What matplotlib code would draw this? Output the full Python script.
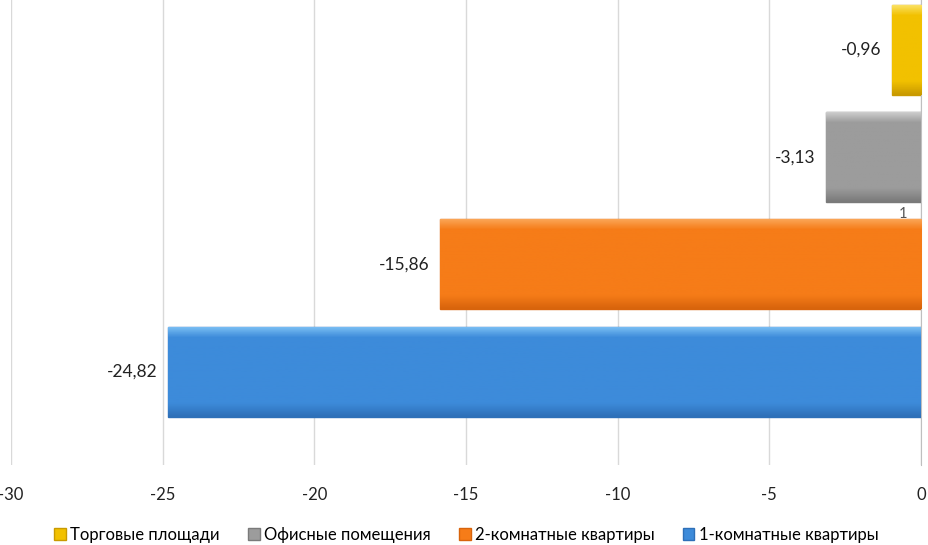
import matplotlib.pyplot as plt
import numpy as np
from matplotlib.patches import Patch
from matplotlib.colors import LinearSegmentedColormap

# chart data
series = ["Торговые площади", "Офисные помещения", "2-комнатные квартиры", "1-комнатные квартиры"]
values = [-0.96, -3.13, -15.86, -24.82]
labels = ["-0,96", "-3,13", "-15,86", "-24,82"]
colors = ["#F2C100", "#9C9C9C", "#F67C18", "#3D8BDA"]
lights = ["#FBE36A", "#D0D0D0", "#FBA85A", "#7CC0F4"]
darks = ["#C99A00", "#7A7A7A", "#D8640C", "#2E70B8"]
xticks = [-30, -25, -20, -15, -10, -5, 0]
category = "1"

plt.rcParams['font.family'] = ['Lato', 'DejaVu Sans']

fig = plt.figure(figsize=(9.29, 5.45), dpi=100)
ax = fig.add_axes([11 / 929, 1 - 465 / 545, 910 / 929, 465 / 545])

pos = list(range(len(values)))
bars = ax.barh(pos, values, height=0.84, color=colors, edgecolor=darks, linewidth=1.0, zorder=3)

# vertical gradient inside each bar (light top, darker bottom)
for bar, lt, c, dk in zip(bars, lights, colors, darks):
    cmap = LinearSegmentedColormap.from_list("g", [(0, lt), (0.12, c), (0.85, c), (1, dk)])
    x0, y0 = bar.get_x(), bar.get_y()
    w, h = bar.get_width(), bar.get_height()
    grad = np.linspace(0, 1, 100).reshape(-1, 1)
    im = ax.imshow(grad, cmap=cmap, aspect='auto', zorder=4,
                   extent=[x0, x0 + w, y0 + h, y0], origin='upper')
    im.set_clip_path(bar)

for p, v, lab in zip(pos, values, labels):
    ax.text(v - 0.35, p, lab, ha='right', va='center', fontsize=12.5, color='#222222')

ax.set_xlim(-30, 0)
ax.set_ylim(3.87, -0.466)
ax.set_xticks(xticks)
ax.set_xticklabels([str(t) for t in xticks], fontsize=12)
ax.tick_params(axis='x', length=0, pad=16, colors='#222222')
ax.set_yticks([])
ax.grid(axis='x', color='#D9D9D9', linewidth=1, zorder=0)
for s in ['top', 'left', 'bottom']:
    ax.spines[s].set_visible(False)
ax.spines['right'].set_color('#BFBFBF')

# category label next to the value axis
ax.text(-0.6, 1.53, category, ha='center', va='center', fontsize=10.5, color='#555555')

handles = [Patch(facecolor=c, edgecolor=d) for c, d in zip(colors, darks)]
fig.legend(handles, series, loc='center', bbox_to_anchor=(0.502, 1 - 535 / 545), ncol=4,
           frameon=False, fontsize=12, handlelength=0.7, handleheight=0.7,
           handletextpad=0.25, columnspacing=1.7)

fig.savefig("out.png", dpi=100)
